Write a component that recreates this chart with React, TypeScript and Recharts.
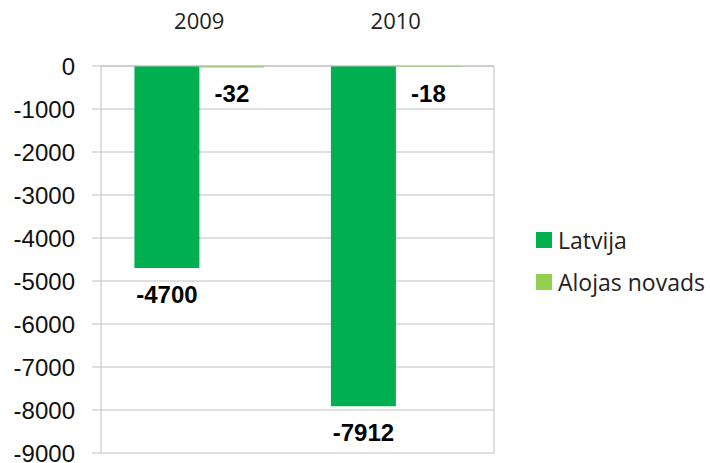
import React from 'react';
import { BarChart, Bar, XAxis, YAxis, CartesianGrid, Legend, LabelList } from 'recharts';

const categories = ['2009', '2010'];
const latvija = [-4700, -7912];
const alojas = [-32, -18];
const yTicks = [0, -1000, -2000, -3000, -4000, -5000, -6000, -7000, -8000, -9000];
const seriesNames = ['Latvija', 'Alojas novads'];
const boundaryTicks = [1];

const data = categories.map((c, i) => ({ year: c, Latvija: latvija[i], 'Alojas novads': alojas[i] }));

const COLORS: Record<string, string> = { Latvija: '#00B050', 'Alojas novads': '#92D050' };

const renderLabel = (props: any) => {
  const vb = props.viewBox || props;
  const x = vb.x ?? props.x;
  const y = vb.y ?? props.y;
  const w = vb.width ?? props.width;
  const h = vb.height ?? props.height;
  const bottom = Math.max(y, y + h);
  return (
    <text
      x={x + w / 2}
      y={bottom + 35}
      textAnchor="middle"
      fontFamily="'Liberation Sans', Arial, sans-serif"
      fontWeight="bold"
      fontSize={24}
      fill="#000"
    >
      {props.value}
    </text>
  );
};

const renderLegend = () => {
  return (
    <div style={{ fontFamily: "'Open Sans', sans-serif", fontSize: 23, color: '#222' }}>
      {seriesNames.map((name) => (
        <div key={name} style={{ display: 'flex', alignItems: 'center', height: 42 }}>
          <span style={{ display: 'inline-block', width: 16, height: 16, background: COLORS[name], marginRight: 6 }} />
          <span>{name}</span>
        </div>
      ))}
    </div>
  );
};

export default function App() {
  return (
    <div style={{ position: 'absolute', left: 0, top: 0, width: 710, height: 463, background: '#fff' }}>
      <BarChart
        width={710}
        height={463}
        data={data}
        margin={{ top: 0, right: 216, bottom: 10, left: 0 }}
        barCategoryGap="17%"
        barGap={0}
        style={{ overflow: 'visible' }}
      >
        <CartesianGrid vertical={true} verticalPoints={[494]} stroke="#BFBFBF" strokeWidth={1} />
        <XAxis
          dataKey="year"
          orientation="top"
          height={66}
          tickLine={false}
          tickSize={0}
          tickMargin={37}
          axisLine={{ stroke: '#BFBFBF' }}
          tick={{ fontFamily: "'Open Sans', sans-serif", fontSize: 22, fill: '#222' }}
        />
        <XAxis
          xAxisId="bounds"
          type="number"
          domain={[0, 2]}
          ticks={boundaryTicks}
          orientation="top"
          mirror
          height={0}
          axisLine={false}
          tick={false}
          tickSize={7}
          tickLine={{ stroke: '#BFBFBF' }}
        />
        <YAxis
          width={101}
          domain={[-9000, 0]}
          ticks={yTicks}
          interval={0}
          tickSize={9}
          tickMargin={17}
          axisLine={{ stroke: '#BFBFBF' }}
          tickLine={{ stroke: '#BFBFBF' }}
          tick={{ fontFamily: "'Liberation Sans', Arial, sans-serif", fontSize: 24, fill: '#111' }}
        />
        <Legend
          layout="vertical"
          align="center"
          verticalAlign="middle"
          content={renderLegend}
          wrapperStyle={{ left: 536, top: 219, width: 174 }}
        />
        <Bar dataKey="Latvija" fill={COLORS['Latvija']} isAnimationActive={false}>
          <LabelList dataKey="Latvija" content={renderLabel} />
        </Bar>
        <Bar dataKey="Alojas novads" fill={COLORS['Alojas novads']} isAnimationActive={false}>
          <LabelList dataKey="Alojas novads" content={renderLabel} />
        </Bar>
      </BarChart>
    </div>
  );
}
